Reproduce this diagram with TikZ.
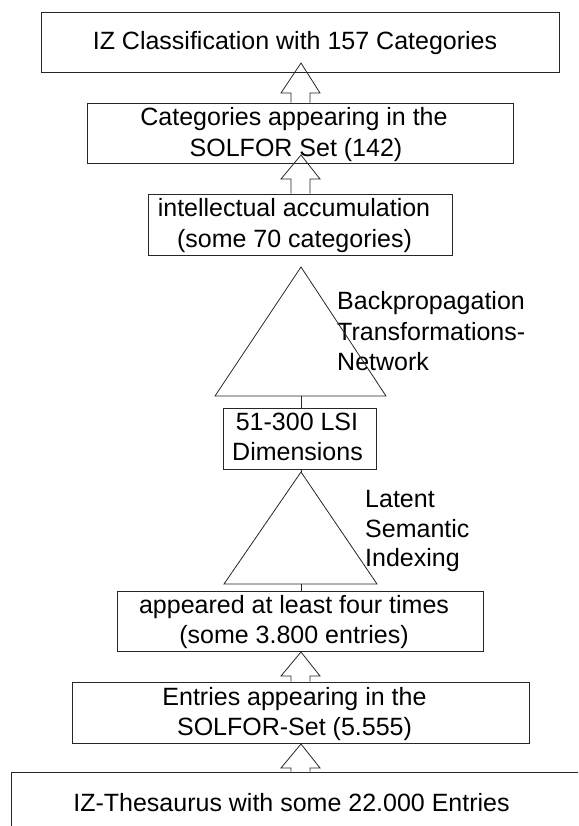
\documentclass[tikz,border=0pt]{standalone}
\usepackage{fontspec}
\setmainfont{Liberation Sans}
\begin{document}
\begin{tikzpicture}[x=1pt,y=-1pt,
  box/.style={draw=black!85, line width=0.8pt, rectangle, inner sep=0pt},
  txt/.style={inner sep=0pt, anchor=base, font=\fontsize{25}{30}\selectfont},
  ltxt/.style={inner sep=0pt, anchor=base west, font=\fontsize{25}{30}\selectfont},
  outline/.style={draw=black!85, line width=0.8pt, line join=miter}]
\clip (0,0) rectangle (578,826);
\useasboundingbox (0,0) rectangle (578,826);

% boxes
\node[box, minimum width=518pt, minimum height=60pt] (b1) at (300,42) {};
\node[box, minimum width=426pt, minimum height=60pt] (b2) at (300,133) {};
\node[box, minimum width=304pt, minimum height=61pt] (b3) at (300,224.5) {};
\node[box, minimum width=153pt, minimum height=61pt] (b4) at (299.5,438.5) {};
\node[box, minimum width=366pt, minimum height=60pt] (b5) at (300,621) {};
\node[box, minimum width=457pt, minimum height=61pt] (b6) at (300.5,712.5) {};
\node[box, minimum width=600pt, minimum height=100pt] (b7) at (311,822) {};

% texts
\node[txt] (t1) at (295,50) {IZ Classification with 157 Categories};
\node[txt] (t2a) at (294,126) {Categories appearing in the};
\node[txt] (t2b) at (296,157) {SOLFOR Set (142)};
\node[txt] (t3a) at (294,217) {intellectual accumulation};
\node[txt] (t3b) at (294.5,247) {(some 70 categories)};
\node[txt] (t4a) at (297,430) {51-300 LSI};
\node[txt] (t4b) at (297.5,460) {Dimensions};
\node[txt] (t5a) at (294,613) {appeared at least four times};
\node[txt] (t5b) at (294,643) {(some 3.800 entries)};
\node[txt] (t6a) at (294.5,705) {Entries appearing in the};
\node[txt] (t6b) at (294.5,735) {SOLFOR-Set (5.555)};
\node[txt] (t7) at (291.5,811) {IZ-Thesaurus with some 22.000 Entries};

% side labels
\node[ltxt] (l1a) at (337,309) {Backpropagation};
\node[ltxt] (l1b) at (337,340) {Transformations-};
\node[ltxt] (l1c) at (337,370) {Network};
\node[ltxt] (l2a) at (365,507) {Latent};
\node[ltxt] (l2b) at (365,537) {Semantic};
\node[ltxt] (l2c) at (365,566) {Indexing};

% triangles
\coordinate (tr1apex) at (301,267);
\coordinate (tr1l) at (215,396);
\coordinate (tr1r) at (386,396);
\coordinate (tr1base) at (301,396);
\draw[outline] (tr1apex) -- (tr1l) -- (tr1r) -- cycle;
\draw[outline] (tr1base) -- (b4.north -| tr1base);

\coordinate (tr2apex) at (301,472);
\coordinate (tr2l) at (224,584);
\coordinate (tr2r) at (377,584);
\coordinate (tr2base) at (301,584);
\draw[outline] (tr2apex) -- (tr2l) -- (tr2r) -- cycle;
\draw[outline] (b4.south -| tr2apex) -- (tr2apex);
\draw[outline] (tr2base) -- (b5.north -| tr2base);

% hollow arrows
\coordinate (a1tip) at (301,63);
\draw[outline] (b2.north -| 291,0) -- (291,93) -- (281,93) -- (a1tip) -- (320,93) -- (310,93) -- (b2.north -| 310,0);
\coordinate (a2tip) at (301,155);
\draw[outline] (b3.north -| 291,0) -- (291,179) -- (281,179) -- (a2tip) -- (320,179) -- (310,179) -- (b3.north -| 310,0);
\coordinate (a3tip) at (301,652);
\draw[outline] (b6.north -| 291,0) -- (291,676) -- (281,676) -- (a3tip) -- (320,676) -- (310,676) -- (b6.north -| 310,0);
\coordinate (a4tip) at (301,744);
\draw[outline] (b7.north -| 291,0) -- (291,768) -- (281,768) -- (a4tip) -- (320,768) -- (310,768) -- (b7.north -| 310,0);
\end{tikzpicture}
\end{document}
